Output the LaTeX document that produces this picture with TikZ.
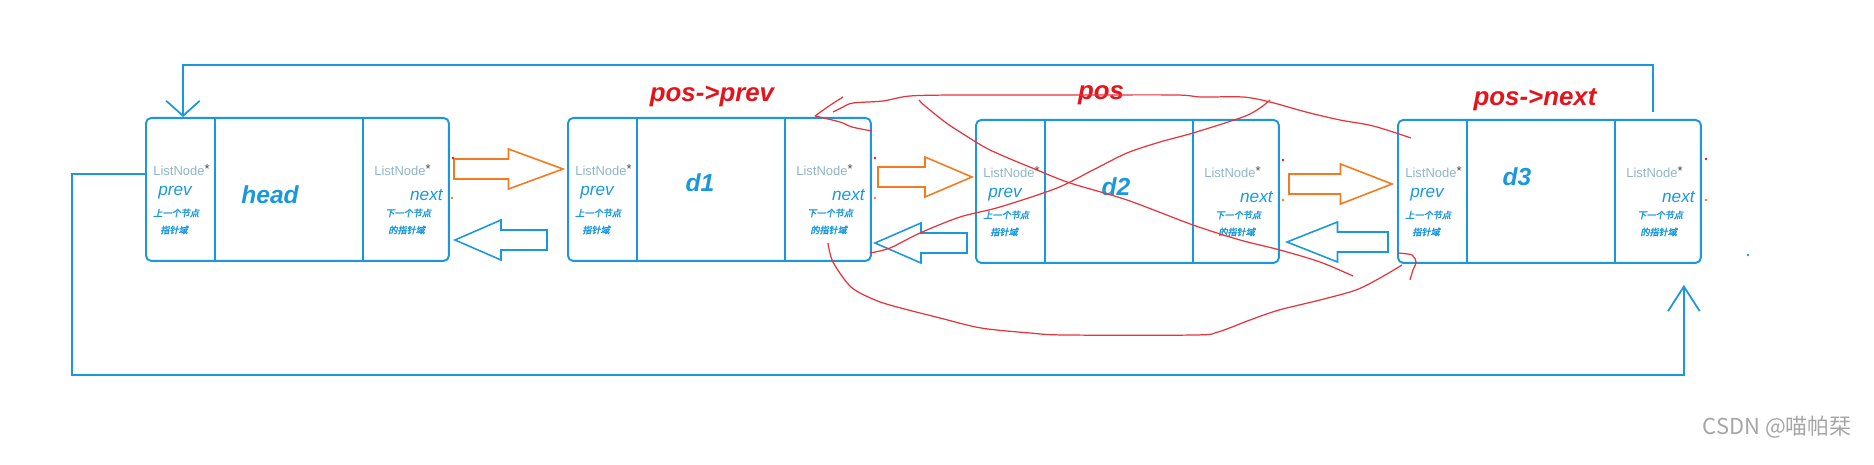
\documentclass[tikz,border=0pt]{standalone}
\usepackage{fontspec}
\setmainfont{Liberation Sans}
\newfontfamily\cjk[FakeSlant=0.2,FakeBold=2.5]{Noto Sans CJK SC}
\newfontfamily\cjkup{Noto Sans CJK SC}
\usetikzlibrary{arrows.meta, positioning, calc}
\definecolor{linkblue}{HTML}{1A98DE}
\definecolor{ptrgrey}{HTML}{8FB6C8}
\definecolor{posred}{HTML}{E3141C}
\definecolor{scribred}{HTML}{E6343C}
\definecolor{fwdorange}{HTML}{F47A20}
\definecolor{markgrey}{HTML}{A6A6A6}
\newcommand{\fatarrow}[4]{%
  \pgfmathsetmacro{\midx}{(#2+#3)/2}%
  \draw[#1, line width=0.9pt]
    (#2,#4-10) -- (\midx,#4-10) -- (\midx,#4-20) -- (#3,#4)
    -- (\midx,#4+20) -- (\midx,#4+10) -- (#2,#4+10) -- cycle;}
\tikzset{
  listbox/.style={draw=linkblue, line width=1.1pt, rounded corners=3pt,
    minimum width=6.06cm, minimum height=2.86cm, inner sep=0pt,
    anchor=north west},
  divider/.style={linkblue, line width=0.8pt},
  ptrtype/.style={anchor=west, inner sep=0pt, text=ptrgrey,
    font=\fontsize{7.4}{8}\selectfont},
  ptrname/.style={inner sep=0pt, text=linkblue,
    font=\fontsize{9.8}{10}\selectfont\itshape},
  ptrnote/.style={anchor=west, inner sep=0pt, text=linkblue,
    font=\fontsize{5.2}{6}\selectfont\cjk},
  datalabel/.style={inner sep=0pt, text=linkblue,
    font=\fontsize{14}{16}\selectfont\bfseries\itshape},
  poslabel/.style={inner sep=0pt, text=posred,
    font=\fontsize{14.7}{16}\selectfont\bfseries\itshape},
  loopline/.style={linkblue, line width=1pt},
  scrib/.style={scribred, line width=0.7pt}
}

\begin{document}
\begin{tikzpicture}[x=0.02cm, y=-0.02cm]
  \useasboundingbox (0,0) rectangle (1874,465);
  \foreach \nm/\x/\y/\lx/\ly in {head/145/117/270/195, d1/567/117/700/183,
                                 d2/975/119/1116/187, d3/1397/119/1517/177}{%
    \node[listbox] (\nm) at (\x,\y) {};
    \draw[divider] ([xshift=1.4cm]\nm.north west) -- ([xshift=1.4cm]\nm.south west);
    \draw[divider] ([xshift=4.36cm]\nm.north west) -- ([xshift=4.36cm]\nm.south west);
    \node[datalabel] (\nm-lab) at (\lx,\ly) {\nm};
    \node[ptrtype] (\nm-pt) at ($(\nm.north west)+(8,53)$)
      {ListNode\raisebox{.4ex}{\color{black!70}*}};
    \node[ptrname, anchor=west] (\nm-prev) at ($(\nm.north west)+(13,76)$) {prev};
    \node[ptrnote] (\nm-pn1) at ($(\nm.north west)+(8,96)$) {上一个节点};
    \node[ptrnote] (\nm-pn2) at ($(\nm.north west)+(15,113)$) {指针域};
    \node[ptrtype] (\nm-nt) at ($(\nm.north west)+(229,53)$)
      {ListNode\raisebox{.4ex}{\color{black!70}*}};
    \node[ptrname, anchor=east] (\nm-next) at ($(\nm.north west)+(298,78)$) {next};
    \node[ptrnote] (\nm-nn1) at ($(\nm.north west)+(240,96)$) {下一个节点};
    \node[ptrnote] (\nm-nn2) at ($(\nm.north west)+(243,113)$) {的指针域};}

  \node[poslabel] (prevlab) at (712,96) {pos->prev};
  \node[poslabel] (poslab) at (1101,95) {pos};
  \node[poslabel] (nextlab) at (1535,100) {pos->next};

  \fatarrow{fwdorange}{454}{563}{169}
  \fatarrow{linkblue}{547}{455}{240}
  \fatarrow{fwdorange}{878}{972}{177}
  \fatarrow{linkblue}{967}{875}{243}
  \fatarrow{fwdorange}{1289}{1392}{184}
  \fatarrow{linkblue}{1388}{1287}{242}

  \draw[loopline, -{Straight Barb[length=8.5pt, width=19pt]}]
    ([xshift=-0.98cm, yshift=0.14cm]d3.north east) -- ++(0,-47)
    -| ([xshift=0.76cm]head.north west);
  \draw[loopline, -{Straight Barb[length=14pt, width=18pt]}]
    ([yshift=0.31cm]head.west) -- ++(-73,0) -- ++(0,201)
    -| ([xshift=-0.36cm, yshift=-0.42cm]d3.south east);

  \draw[scrib] plot[smooth] coordinates {(843,97) (829,106) (815,116)};
  \draw[scrib] plot[smooth] coordinates {(815,116) (840,122) (852,127) (872,131)};
  \draw[scrib] plot[smooth] coordinates {(833,112) (843,107) (853,103) (883,101)
    (910,96) (960,95) (1075,95) (1176,95) (1201,97) (1243,97) (1270,102)
    (1306,112) (1340,120) (1369,125) (1390,131) (1411,138)};
  \draw[scrib] plot[smooth] coordinates {(919,100) (925,106) (945,122) (960,132)
    (990,150) (1037,170) (1070,183) (1127,200) (1193,225) (1240,240)
    (1280,250) (1320,262) (1353,276)};
  \draw[scrib] plot[smooth] coordinates {(870,253) (890,248) (920,233) (960,217)
    (1000,207) (1057,188) (1093,170) (1127,153) (1160,142) (1193,133)
    (1243,117) (1260,108) (1270,100)};
  \draw[scrib] plot[smooth] coordinates {(828,243) (833,262) (851,287) (875,300)
    (897,307) (940,318) (981,328) (1030,333) (1065,335) (1195,335) (1218,332)
    (1250,320) (1279,310) (1320,300) (1356,290) (1380,278) (1402,265)};
  \draw[scrib] plot[smooth] coordinates {(1398,253) (1412,255) (1416,262)
    (1413,270) (1410,280)};

  \foreach \px/\py/\c in {453/158/posred, 452/198/fwdorange, 875/158/posred,
                          875/198/fwdorange, 1283/160/posred, 1283/200/fwdorange,
                          1706/159/posred, 1706/200/fwdorange, 1748/255/linkblue}{%
    \fill[\c] (\px,\py) circle[radius=0.8pt];}

  \node[text=markgrey, font=\fontsize{12.5}{14}\selectfont\cjkup, anchor=east]
    (mark) at (1858,427) {CSDN @喵帕栞};
\end{tikzpicture}
\end{document}
